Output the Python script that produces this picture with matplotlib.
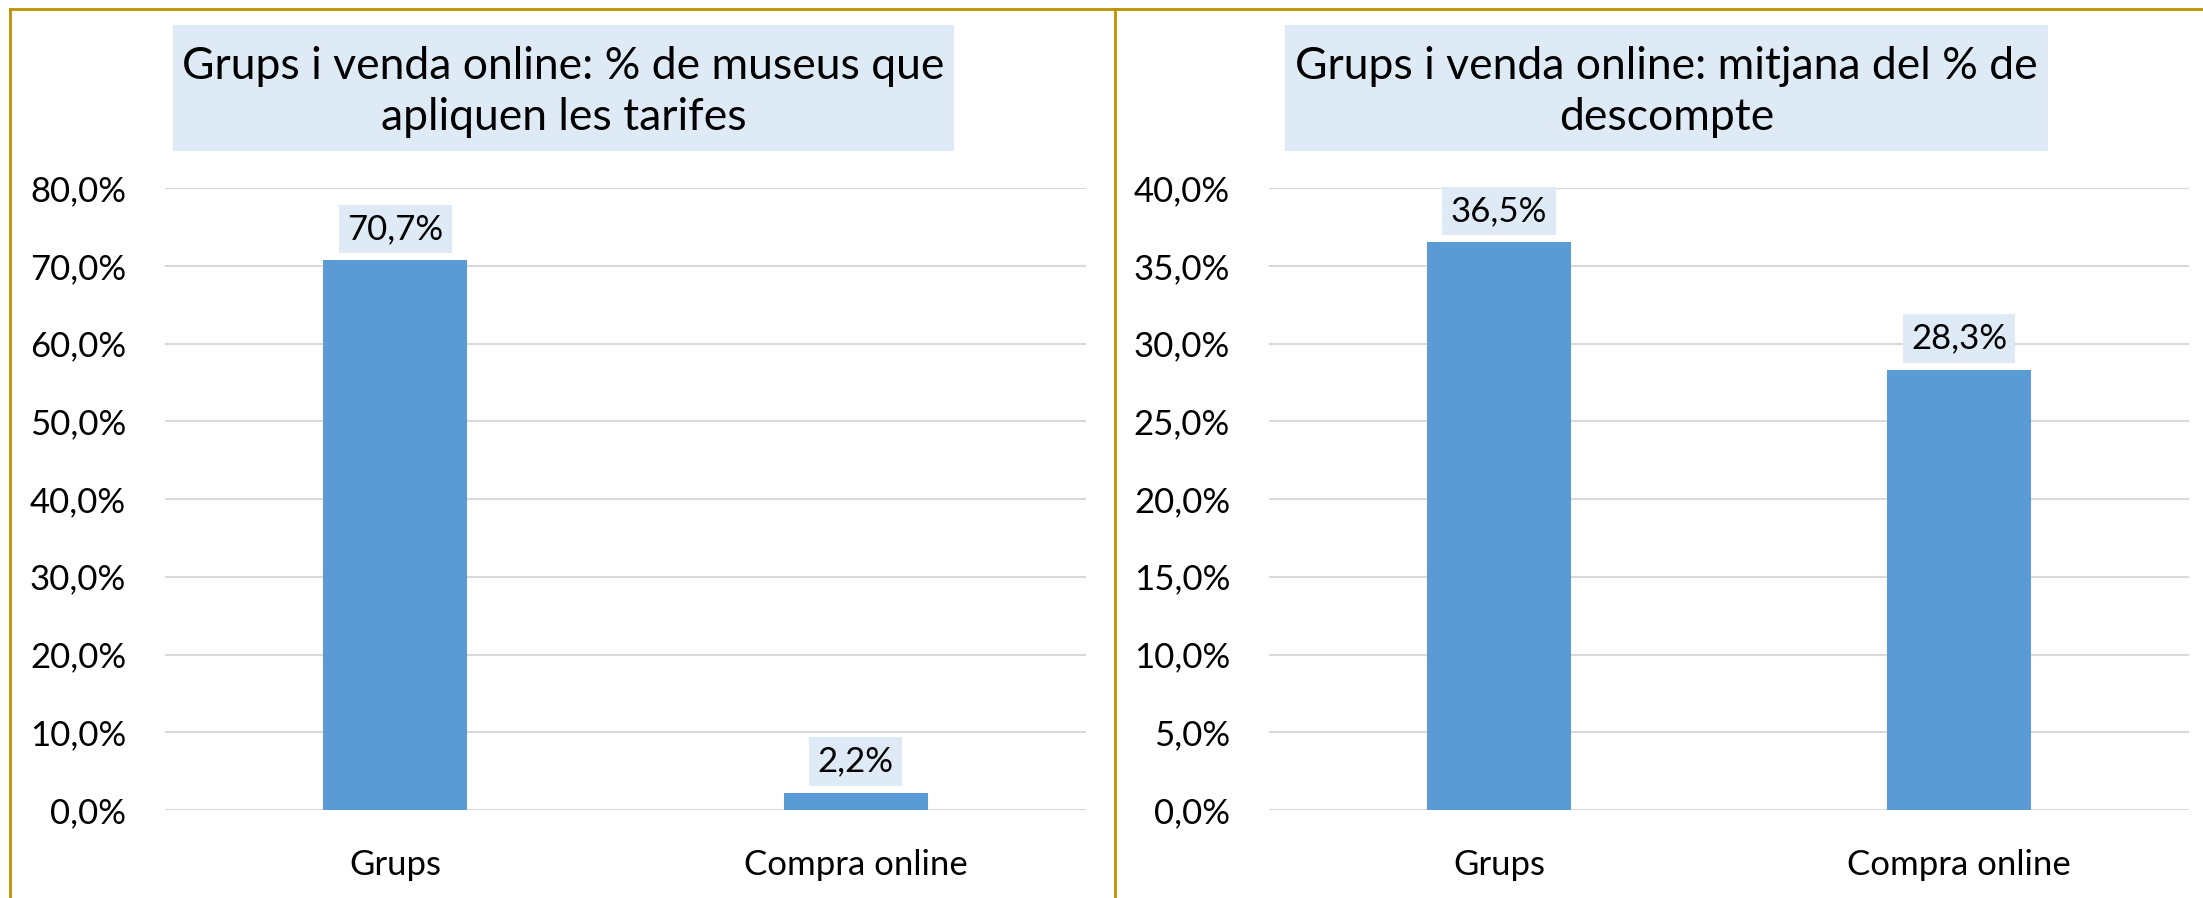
import matplotlib
matplotlib.use("Agg")
import matplotlib.pyplot as plt
from matplotlib.patches import Rectangle
from matplotlib.lines import Line2D

BAR, LABEL_BG, GRID, GOLD = "#5B9BD5", "#DEEBF7", "#D9D9D9", "#BF9000"

categories = ["Grups", "Compra online"]
pct_museus = [70.7, 2.2]
pct_descompte = [36.5, 28.3]
titles = ["Grups i venda online: % de museus que\napliquen les tarifes",
          "Grups i venda online: mitjana del % de\ndescompte"]
ymax = [80, 40]
ystep = [10, 5]

W, H = 2203, 898
plt.rcParams["font.family"] = ["Lato", "DejaVu Sans"]
fig = plt.figure(figsize=(W / 100, H / 100), dpi=100)


def px(x0, y0, x1, y1):
    # pixel box (top-left origin) -> figure fraction rect
    return [x0 / W, 1 - y1 / H, (x1 - x0) / W, (y1 - y0) / H]


panels = [
    (px(165, 188, 1086, 810), (173, 25, 954, 151), pct_museus),
    (px(1269, 188, 2189, 810), (1285, 25, 2048, 151), pct_descompte),
]

for k, (rect, tbox, vals) in enumerate(panels):
    ax = fig.add_axes(rect)
    x = range(len(categories))
    ax.bar(x, vals, width=0.313, color=BAR, zorder=2)
    ax.set_xlim(-0.5, 1.5)
    ax.set_ylim(0, ymax[k])
    ticks = [i * ystep[k] for i in range(ymax[k] // ystep[k] + 1)]
    ax.set_yticks(ticks)
    ax.set_yticklabels([f"{t:.1f}%".replace(".", ",") for t in ticks], fontsize=25)
    ax.set_xticks(list(x))
    ax.set_xticklabels(categories, fontsize=25)
    ax.tick_params(axis="both", length=0)
    ax.tick_params(axis="y", pad=28)
    ax.tick_params(axis="x", pad=28)
    ax.grid(axis="y", color=GRID, lw=1.5, zorder=0)
    ax.set_axisbelow(True)
    for s in ax.spines.values():
        s.set_visible(False)
    ax.set_facecolor("none")
    for xi, v in zip(x, vals):
        ax.annotate(f"{v:.1f}%".replace(".", ","), (xi, v), xytext=(0, 11),
                    textcoords="offset points", ha="center", va="bottom",
                    fontsize=25, zorder=3,
                    bbox=dict(boxstyle="square,pad=0.24", fc=LABEL_BG, ec="none"))

    # title box
    x0, y0, x1, y1 = tbox
    fig.patches.append(Rectangle((x0 / W, 1 - y1 / H), (x1 - x0) / W, (y1 - y0) / H,
                                 transform=fig.transFigure, fc=LABEL_BG, ec="none",
                                 zorder=0))
    fig.text((x0 + x1) / 2 / W, 1 - (y0 + y1 + 8) / 2 / H, titles[k],
             ha="center", va="center", fontsize=32, linespacing=1.3)

# chart frames
for (xa, ya, xb, yb) in [(10, 9, W, 9), (10, 9, 10, H), (1115, 9, 1115, H)]:
    fig.add_artist(Line2D([xa / W, xb / W], [1 - ya / H, 1 - yb / H],
                          transform=fig.transFigure, color=GOLD, lw=2))

fig.savefig("out.png", dpi=100, facecolor="white")
